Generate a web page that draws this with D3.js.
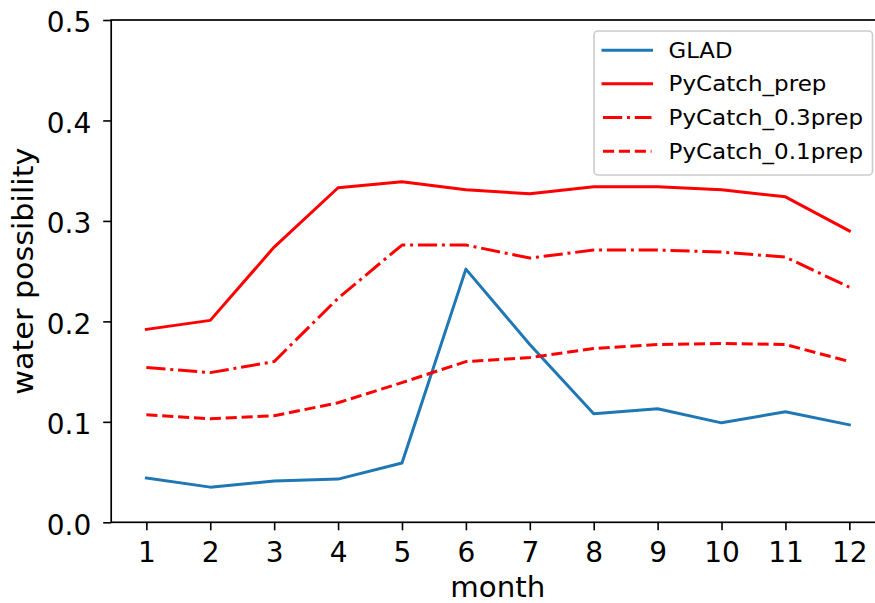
<!DOCTYPE html>
<html>
<head>
<meta charset="utf-8">
<script src="https://cdn.jsdelivr.net/npm/d3@7"></script>
<style>
  html, body { margin: 0; padding: 0; background: #fff; }
  svg { display: block; font-family: "DejaVu Sans", sans-serif; }
</style>
</head>
<body>
<svg id="chart" width="875" height="603"></svg>
<script>
// Monthly water possibility per source
const months = [1, 2, 3, 4, 5, 6, 7, 8, 9, 10, 11, 12];
const glad = [0.044, 0.035, 0.041, 0.043, 0.059, 0.252, 0.177, 0.108, 0.113, 0.099, 0.110, 0.097];
const pycatchPrep = [0.192, 0.201, 0.274, 0.333, 0.339, 0.331, 0.327, 0.334, 0.334, 0.331, 0.324, 0.290];
const pycatch03Prep = [0.154, 0.149, 0.160, 0.223, 0.276, 0.276, 0.263, 0.271, 0.271, 0.269, 0.264, 0.234];
const pycatch01Prep = [0.107, 0.103, 0.106, 0.119, 0.139, 0.160, 0.164, 0.173, 0.177, 0.178, 0.177, 0.160];
const seriesNames = ["GLAD", "PyCatch_prep", "PyCatch_0.3prep", "PyCatch_0.1prep"];
const yTicks = [0.0, 0.1, 0.2, 0.3, 0.4, 0.5];

const series = [
  { name: seriesNames[0], values: glad, color: "#1f77b4", dash: null, textLen: 64 },
  { name: seriesNames[1], values: pycatchPrep, color: "#ff0000", dash: null, textLen: 158 },
  { name: seriesNames[2], values: pycatch03Prep, color: "#ff0000", dash: "19.2,4.8,3,4.8", textLen: 194.5 },
  { name: seriesNames[3], values: pycatch01Prep, color: "#ff0000", dash: "11.1,4.8", textLen: 194.5 }
];

const svg = d3.select("#chart");
const plotLeft = 111.2, plotRight = 884.5, plotTop = 20, plotBottom = 522.3;

const x = d3.scaleLinear().domain([0.45, 12.55]).range([plotLeft, plotRight]);
const y = d3.scaleLinear().domain([0, 0.5]).range([plotBottom, plotTop]);

const tickFont = 28;
const ink = "#000";

// y axis
const yAxis = svg.append("g")
  .attr("transform", `translate(${plotLeft},0)`)
  .call(d3.axisLeft(y).tickValues(yTicks).tickFormat(d3.format(".1f")).tickSize(8).tickPadding(12));
yAxis.select(".domain").remove();
yAxis.selectAll(".tick line").attr("stroke", ink).attr("stroke-width", 1.6);
yAxis.selectAll(".tick text")
  .attr("font-size", tickFont).attr("fill", ink)
  .attr("font-family", "DejaVu Sans").attr("dy", "0.42em");

// x axis
const xAxis = svg.append("g")
  .attr("transform", `translate(0,${plotBottom})`)
  .call(d3.axisBottom(x).tickValues(months).tickFormat(d3.format("d")).tickSize(8).tickPadding(11));
xAxis.select(".domain").remove();
xAxis.selectAll(".tick line").attr("stroke", ink).attr("stroke-width", 1.6);
xAxis.selectAll(".tick text")
  .attr("font-size", tickFont).attr("fill", ink)
  .attr("font-family", "DejaVu Sans").attr("dy", "0.73em");

// plot lines, clipped to the axes area
svg.append("defs").append("clipPath").attr("id", "plotClip")
  .append("rect").attr("x", plotLeft).attr("y", plotTop)
  .attr("width", plotRight - plotLeft).attr("height", plotBottom - plotTop);

const line = d3.line().x((d, i) => x(months[i])).y(d => y(d));
const plot = svg.append("g").attr("clip-path", "url(#plotClip)");
series.forEach(s => {
  plot.append("path")
    .datum(s.values)
    .attr("d", line)
    .attr("fill", "none")
    .attr("stroke", s.color)
    .attr("stroke-width", 3)
    .attr("stroke-linejoin", "round")
    .attr("stroke-linecap", s.dash ? "butt" : "square")
    .attr("stroke-dasharray", s.dash);
});

// spines
svg.append("rect")
  .attr("x", plotLeft).attr("y", plotTop)
  .attr("width", plotRight - plotLeft).attr("height", plotBottom - plotTop)
  .attr("fill", "none").attr("stroke", ink).attr("stroke-width", 1.7);

// axis labels
svg.append("text")
  .attr("x", (plotLeft + plotRight) / 2).attr("y", 596.7)
  .attr("text-anchor", "middle").attr("font-size", tickFont).attr("fill", ink)
  .attr("textLength", 95).attr("lengthAdjust", "spacingAndGlyphs")
  .text("month");
svg.append("text")
  .attr("transform", `translate(33.3,${(plotTop + plotBottom) / 2}) rotate(-90)`)
  .attr("text-anchor", "middle").attr("font-size", tickFont).attr("fill", ink)
  .attr("textLength", 247).attr("lengthAdjust", "spacingAndGlyphs")
  .text("water possibility");

// legend
const legend = svg.append("g");
legend.append("rect")
  .attr("x", 594).attr("y", 31).attr("width", 278.5).attr("height", 144)
  .attr("rx", 4).attr("ry", 4)
  .attr("fill", "#fff").attr("fill-opacity", 0.8)
  .attr("stroke", "#cccccc").attr("stroke-width", 1.6);
series.forEach((s, i) => {
  const rowY = 50.2 + 33.67 * i;
  legend.append("line")
    .attr("x1", 603).attr("x2", 651.5).attr("y1", rowY).attr("y2", rowY)
    .attr("stroke", s.color).attr("stroke-width", 3)
    .attr("stroke-linecap", s.dash ? "butt" : "square")
    .attr("stroke-dasharray", s.dash);
  legend.append("text")
    .attr("x", 668.5).attr("y", rowY + 7.5)
    .attr("font-size", 20.5).attr("fill", ink)
    .attr("textLength", s.textLen).attr("lengthAdjust", "spacingAndGlyphs")
    .text(s.name);
});
</script>
</body>
</html>
